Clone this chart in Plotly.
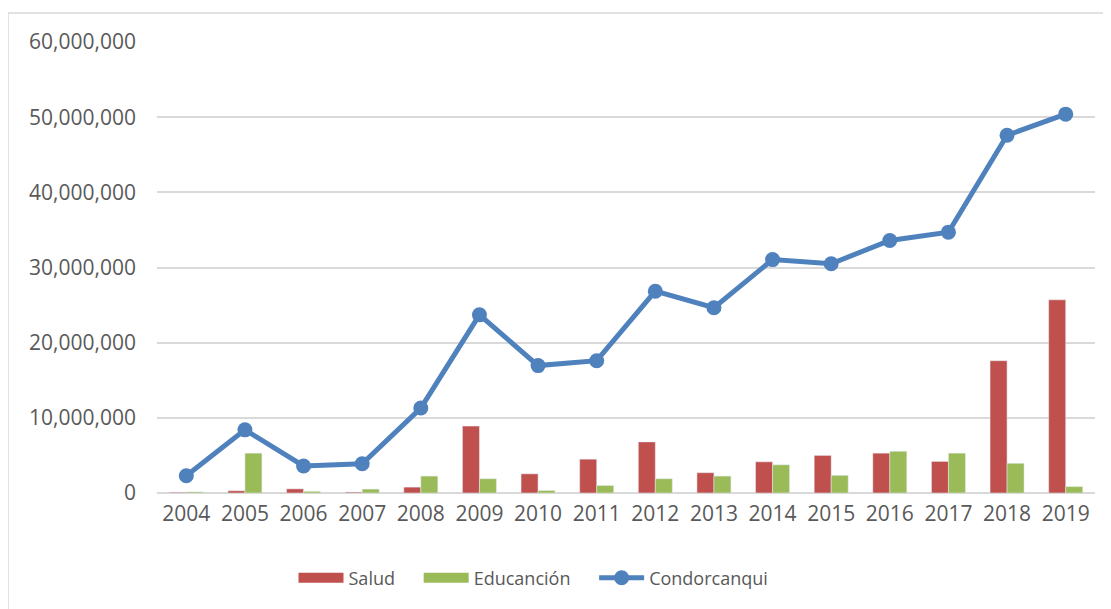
import plotly.graph_objects as go

# datos
anios = ['2004', '2005', '2006', '2007', '2008', '2009', '2010', '2011',
         '2012', '2013', '2014', '2015', '2016', '2017', '2018', '2019']
salud = [100000, 300000, 550000, 120000, 780000, 8900000, 2550000, 4500000,
         6800000, 2700000, 4150000, 5000000, 5300000, 4200000, 17600000, 25700000]
educacion = [150000, 5300000, 220000, 520000, 2250000, 1900000, 330000, 1000000,
             1900000, 2250000, 3750000, 2350000, 5550000, 5300000, 3950000, 850000]
condorcanqui = [2300000, 8400000, 3600000, 3900000, 11300000, 23700000, 16950000, 17600000,
                26850000, 24650000, 31050000, 30500000, 33600000, 34700000, 47600000, 50400000]

W, H = 1111, 609
# la página desplaza el gráfico 8px (margen del body)
L, R, T, B = 149, 24, 34, 124
pw, ph = W - L - R, H - T - B

ROJO, VERDE, AZUL = '#C0504D', '#9BBB59', '#4F81BD'
PAD = '\u00a0' * 4  # separación entre entradas de la leyenda

fig = go.Figure()
fig.add_trace(go.Bar(x=anios, y=salud, name='Salud', marker_color=ROJO,
                     legendgroup='s', showlegend=False))
fig.add_trace(go.Bar(x=anios, y=educacion, name='Educanción', marker_color=VERDE,
                     legendgroup='e', showlegend=False))
fig.add_trace(go.Scatter(x=anios, y=condorcanqui, name='Condorcanqui', mode='lines+markers',
                         line=dict(color=AZUL, width=5),
                         marker=dict(color=AZUL, size=15), showlegend=False))

# entradas de leyenda con rectángulos anchos como en Excel
fig.add_trace(go.Scatter(x=[None], y=[None], mode='lines', name='Salud' + PAD,
                         line=dict(color=ROJO, width=13), legendgroup='s'))
fig.add_trace(go.Scatter(x=[None], y=[None], mode='lines', name='Educanción' + PAD,
                         line=dict(color=VERDE, width=13), legendgroup='e'))
fig.add_trace(go.Scatter(x=[None], y=[None], mode='lines+markers', name='Condorcanqui',
                         line=dict(color=AZUL, width=5), marker=dict(color=AZUL, size=15)))

fig.update_layout(
    width=W, height=H,
    margin=dict(l=L, r=R, t=T, b=B),
    paper_bgcolor='white', plot_bgcolor='white',
    font=dict(family='Open Sans, Noto Sans, sans-serif', size=21, color='#595959'),
    barmode='group', bargap=0.42, bargroupgap=0,
    showlegend=True,
    legend=dict(orientation='h', xref='container', yref='container',
                x=0.473, xanchor='center', y=0.064, yanchor='middle',
                font=dict(size=18, color='#595959'), itemwidth=45),
    xaxis=dict(type='category', range=[-0.5, 15.5], showgrid=False, showline=False,
               ticks='', ticklabelstandoff=6),
    yaxis=dict(range=[0, 60000000], dtick=10000000, tickformat=',d',
               showgrid=True, gridcolor='#D9D9D9', gridwidth=1.5,
               zeroline=True, zerolinecolor='#D9D9D9', zerolinewidth=1.5,
               showline=False, ticks='', ticklabelstandoff=20),
    shapes=[dict(type='rect', xref='paper', yref='paper',
                 x0=(0 - L) / pw, x1=(W + 10 - L) / pw,
                 y0=-(H + 10 - (T + ph)) / ph, y1=1 + (T - 5) / ph,
                 line=dict(color='#D9D9D9', width=1.5), layer='below')],
)

fig.write_html("out.html")
